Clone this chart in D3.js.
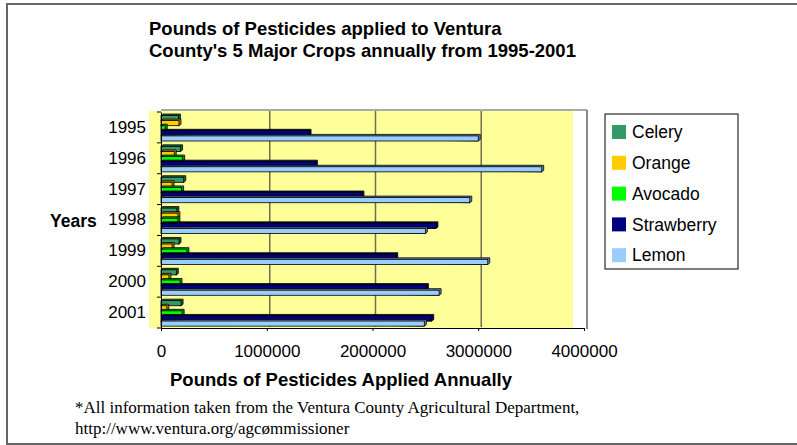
<!DOCTYPE html>
<html lang="en">
<head>
    <meta charset="UTF-8">
    <title>Pesticides Ventura County</title>
    <script src="https://cdn.jsdelivr.net/npm/d3@7/dist/d3.min.js"></script>
    <style>
        body { margin: 0; background: #fff; }
        svg text { font-family: Arial, "Liberation Sans", sans-serif; fill: #000; }
        .axis path, .axis line { stroke: #000; }
        .axis text { font-size: 17px; }
        .footnote { font-family: "Liberation Serif", "Times New Roman", serif !important; font-size: 17px; }
    </style>
</head>
<body>
<div id="chart"></div>
<script>
    var years      = ['1995', '1996', '1997', '1998', '1999', '2000', '2001'];
    var crops      = ['Celery', 'Orange', 'Avocado', 'Strawberry', 'Lemon'];
    var celery     = [165000, 185000, 215000, 150000, 170000, 145000, 190000];
    var orange     = [170000, 125000, 105000, 160000, 105000,  75000,  55000];
    var avocado    = [ 40000, 205000, 195000, 160000, 245000, 180000, 200000];
    var strawberry = [1400000, 1460000, 1900000, 2600000, 2220000, 2510000, 2560000];
    var lemon      = [3000000, 3600000, 2920000, 2500000, 3090000, 2630000, 2490000];
    var xTicks     = [0, 1000000, 2000000, 3000000, 4000000];

    var colors = { Celery: '#339966', Orange: '#FFCC00', Avocado: '#00FF00', Strawberry: '#000080', Lemon: '#99CCFF' };
    var series = { Celery: celery, Orange: orange, Avocado: avocado, Strawberry: strawberry, Lemon: lemon };

    var W = 797, H = 445;
    var depth = 3;

    var svg = d3.select('#chart').append('svg')
        .attr('width', W)
        .attr('height', H);

    // outer frame
    svg.append('rect')
        .attr('x', 7).attr('y', 4)
        .attr('width', W + 10).attr('height', 440)
        .attr('fill', 'none')
        .attr('stroke', '#666')
        .attr('stroke-width', 2);

    var x = d3.scaleLinear().domain([0, 4000000]).range([161, 584]);
    var y = d3.scaleBand().domain(years).range([112, 328]);
    var inner = d3.scaleBand().domain(crops).range([3.5, 29]);

    // back wall
    svg.append('rect')
        .attr('x', 149).attr('y', 111)
        .attr('width', 573 - 149).attr('height', 328 - 111)
        .attr('fill', '#FFFF99');

    // gridlines on the back wall
    svg.append('g').selectAll('line')
        .data(xTicks.slice(1, 4))
        .enter().append('line')
        .attr('x1', function(d) { return x(d) + depth; })
        .attr('x2', function(d) { return x(d) + depth; })
        .attr('y1', 111).attr('y2', 327)
        .attr('stroke', '#6e6e50')
        .attr('stroke-width', 1.5);

    // top and right walls edges
    svg.append('line')
        .attr('x1', x(0)).attr('x2', x(4000000) + depth)
        .attr('y1', 110).attr('y2', 110)
        .attr('stroke', '#aaa').attr('stroke-width', 2);
    svg.append('line')
        .attr('x1', x(4000000) + depth).attr('x2', x(4000000) + depth)
        .attr('y1', 110).attr('y2', 329)
        .attr('stroke', '#888').attr('stroke-width', 2);

    // bars
    var rows = [];
    years.forEach(function(yr, i) {
        crops.forEach(function(c) {
            rows.push({ year: yr, crop: c, value: series[c][i] });
        });
    });

    var bars = svg.append('g').attr('class', 'bars');
    var barG = bars.selectAll('g.bar')
        .data(rows)
        .enter().append('g')
        .attr('class', 'bar');

    barG.append('polygon')
        .attr('points', function(d) {
            var x1 = x(d.value), y0 = y(d.year) + inner(d.crop), h = inner.bandwidth();
            return [[x(0), y0], [x(0) + 2, y0 - 1.5], [x1 + 2, y0 - 1.5], [x1 + 2, y0 + h - 1.5], [x1, y0 + h]].join(' ');
        })
        .attr('fill', function(d) { return d3.color(colors[d.crop]).darker(1.2); })
        .attr('stroke', '#000')
        .attr('stroke-width', 0.8);

    barG.append('rect')
        .attr('x', x(0))
        .attr('y', function(d) { return y(d.year) + inner(d.crop); })
        .attr('width', function(d) { return x(d.value) - x(0); })
        .attr('height', inner.bandwidth())
        .attr('fill', function(d) { return colors[d.crop]; })
        .attr('stroke', '#000')
        .attr('stroke-width', 0.8);

    // axes
    svg.append('g')
        .attr('class', 'axis')
        .attr('transform', 'translate(0,328)')
        .call(d3.axisBottom(x).tickValues(xTicks).tickFormat(d3.format('d')).tickSize(3).tickPadding(14))
        .select('.domain').attr('stroke', '#555');

    var yAxis = svg.append('g')
        .attr('class', 'axis')
        .attr('transform', 'translate(161,0)')
        .call(d3.axisLeft(y).tickSize(0).tickPadding(15));
    yAxis.select('.domain').attr('stroke', '#000');

    // small ticks at category boundaries
    svg.append('g').selectAll('line')
        .data(years.concat(['end']))
        .enter().append('line')
        .attr('x1', 157).attr('x2', 161)
        .attr('y1', function(d) { return d === 'end' ? 328 : y(d); })
        .attr('y2', function(d) { return d === 'end' ? 328 : y(d); })
        .attr('stroke', '#000');

    // titles
    var title = svg.append('text')
        .attr('x', 149).attr('y', 35)
        .attr('font-size', 18.5)
        .attr('font-weight', 'bold');
    title.append('tspan').attr('x', 149).text('Pounds of Pesticides applied to Ventura');
    title.append('tspan').attr('x', 149).attr('dy', 22).text("County's 5 Major Crops annually from 1995-2001");

    svg.append('text')
        .attr('x', 341).attr('y', 386)
        .attr('text-anchor', 'middle')
        .attr('font-size', 18.5)
        .attr('font-weight', 'bold')
        .text('Pounds of Pesticides Applied Annually');

    svg.append('text')
        .attr('x', 50).attr('y', 227)
        .attr('font-size', 17.5)
        .attr('font-weight', 'bold')
        .text('Years');

    // legend
    var legend = svg.append('g').attr('transform', 'translate(605,114)');
    legend.append('rect')
        .attr('width', 133).attr('height', 155)
        .attr('fill', '#fff')
        .attr('stroke', '#000');
    var li = legend.selectAll('g.item')
        .data(crops)
        .enter().append('g')
        .attr('class', 'item')
        .attr('transform', function(d, i) { return 'translate(7,' + (18 + i * 30.8) + ')'; });
    li.append('rect')
        .attr('y', -7).attr('width', 14).attr('height', 14)
        .attr('fill', function(d) { return colors[d]; });
    li.append('text')
        .attr('x', 20).attr('dy', '0.35em')
        .attr('font-size', 17.5)
        .text(function(d) { return d; });

    // footnote
    svg.append('text').attr('class', 'footnote')
        .attr('x', 75).attr('y', 413)
        .text('*All information taken from the Ventura County Agricultural Department,');
    svg.append('text').attr('class', 'footnote')
        .attr('x', 75).attr('y', 434)
        .text('http://www.ventura.org/agcømmissioner');
</script>
</body>
</html>
